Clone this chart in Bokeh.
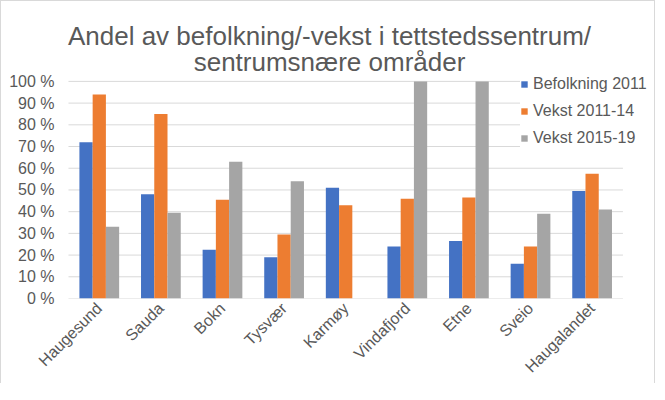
from bokeh.plotting import figure
from bokeh.models import (ColumnDataSource, Range1d, FixedTicker, Legend, LegendItem, Label)
from bokeh.transform import dodge
from bokeh.embed import file_html
from bokeh.resources import INLINE
import math

categories = ["Haugesund", "Sauda", "Bokn", "Tysvær", "Karmøy", "Vindafjord", "Etne", "Sveio", "Haugalandet"]
befolkning_2011 = [72, 48, 22.5, 19, 51, 24, 26.5, 16, 49.5]
vekst_2011_14 = [94, 85, 45.5, 29.5, 43, 46, 46.5, 24, 57.5]
vekst_2015_19 = [33, 39.5, 63, 54, float("nan"), 100, 100, 39, 41]
series_names = ["Befolkning 2011", "Vekst 2011-14", "Vekst 2015-19"]
colors = ["#4472C4", "#ED7D31", "#A5A5A5"]
y_ticks = [0, 10, 20, 30, 40, 50, 60, 70, 80, 90, 100]
title_lines = ["Andel av befolkning/-vekst i tettstedssentrum/", "sentrumsnære områder"]

n = len(categories)
xs = list(range(n))
src = ColumnDataSource(dict(x=xs, b=befolkning_2011, v1=vekst_2011_14, v2=vekst_2015_19))
grid_src = ColumnDataSource(dict(y=y_ticks, x0=[-0.5] * len(y_ticks), x1=[n - 0.5] * len(y_ticks)))

FONT = "Liberation Sans"
TXT = "#595959"

# frame spans the whole chart area above the x axis; the plot itself occupies 0..100
p = figure(x_range=Range1d(-0.597, 9.045), y_range=Range1d(0, 136.8),
           width=655, height=383, output_backend="svg", toolbar_location=None,
           min_border_left=61, min_border_right=0, min_border_bottom=82, min_border_top=0)
p.title = None

for txt, y in zip(title_lines, [263, 237]):
    p.add_layout(Label(text=txt, x=267, y=y, x_units="screen", y_units="screen",
                       text_align="center", text_baseline="alphabetic", text_font=FONT,
                       text_font_size="26px", text_color=TXT))

p.segment(x0="x0", x1="x1", y0="y", y1="y", source=grid_src, line_color="#d9d9d9", line_width=1)

w = 0.215
renderers = []
for i, (col, c) in enumerate(zip(["b", "v1", "v2"], colors)):
    r = p.vbar(x=dodge("x", (i - 1) * w), top=col, width=w, source=src,
               fill_color=c, line_color=None)
    renderers.append(r)

legend = Legend(items=[LegendItem(label=nm, renderers=[r]) for nm, r in zip(series_names, renderers)],
                location=(458, 151), glyph_width=8, glyph_height=8, label_text_font=FONT,
                label_text_font_size="16px", label_text_color=TXT, spacing=9, padding=5,
                margin=0, border_line_color=None, background_fill_color="white",
                background_fill_alpha=1.0, label_standoff=5, label_height=18)
p.add_layout(legend, "center")

p.xaxis.ticker = FixedTicker(ticks=xs)
p.xaxis.major_label_overrides = {i: c for i, c in zip(xs, categories)}
p.yaxis.ticker = FixedTicker(ticks=y_ticks)
p.yaxis.major_label_overrides = {v: f"{v} %" for v in y_ticks}
for ax in (p.xaxis, p.yaxis):
    ax.axis_line_color = None
    ax.major_tick_line_color = None
    ax.minor_tick_line_color = None
    ax.major_tick_out = 0
    ax.major_tick_in = 0
    ax.major_label_text_font = FONT
    ax.major_label_text_font_size = "16px"
    ax.major_label_text_color = TXT
p.yaxis.major_label_standoff = 8
p.xaxis.major_label_standoff = 7
p.xaxis.major_label_orientation = math.pi / 4
p.xgrid.grid_line_color = None
p.ygrid.grid_line_color = None
p.outline_line_color = None
p.styles = {"border-left": "1px solid #d9d9d9", "border-top": "1px solid #d9d9d9",
            "border-right": "1px solid #d9d9d9"}

open("out.html", "w").write(file_html(p, INLINE))
